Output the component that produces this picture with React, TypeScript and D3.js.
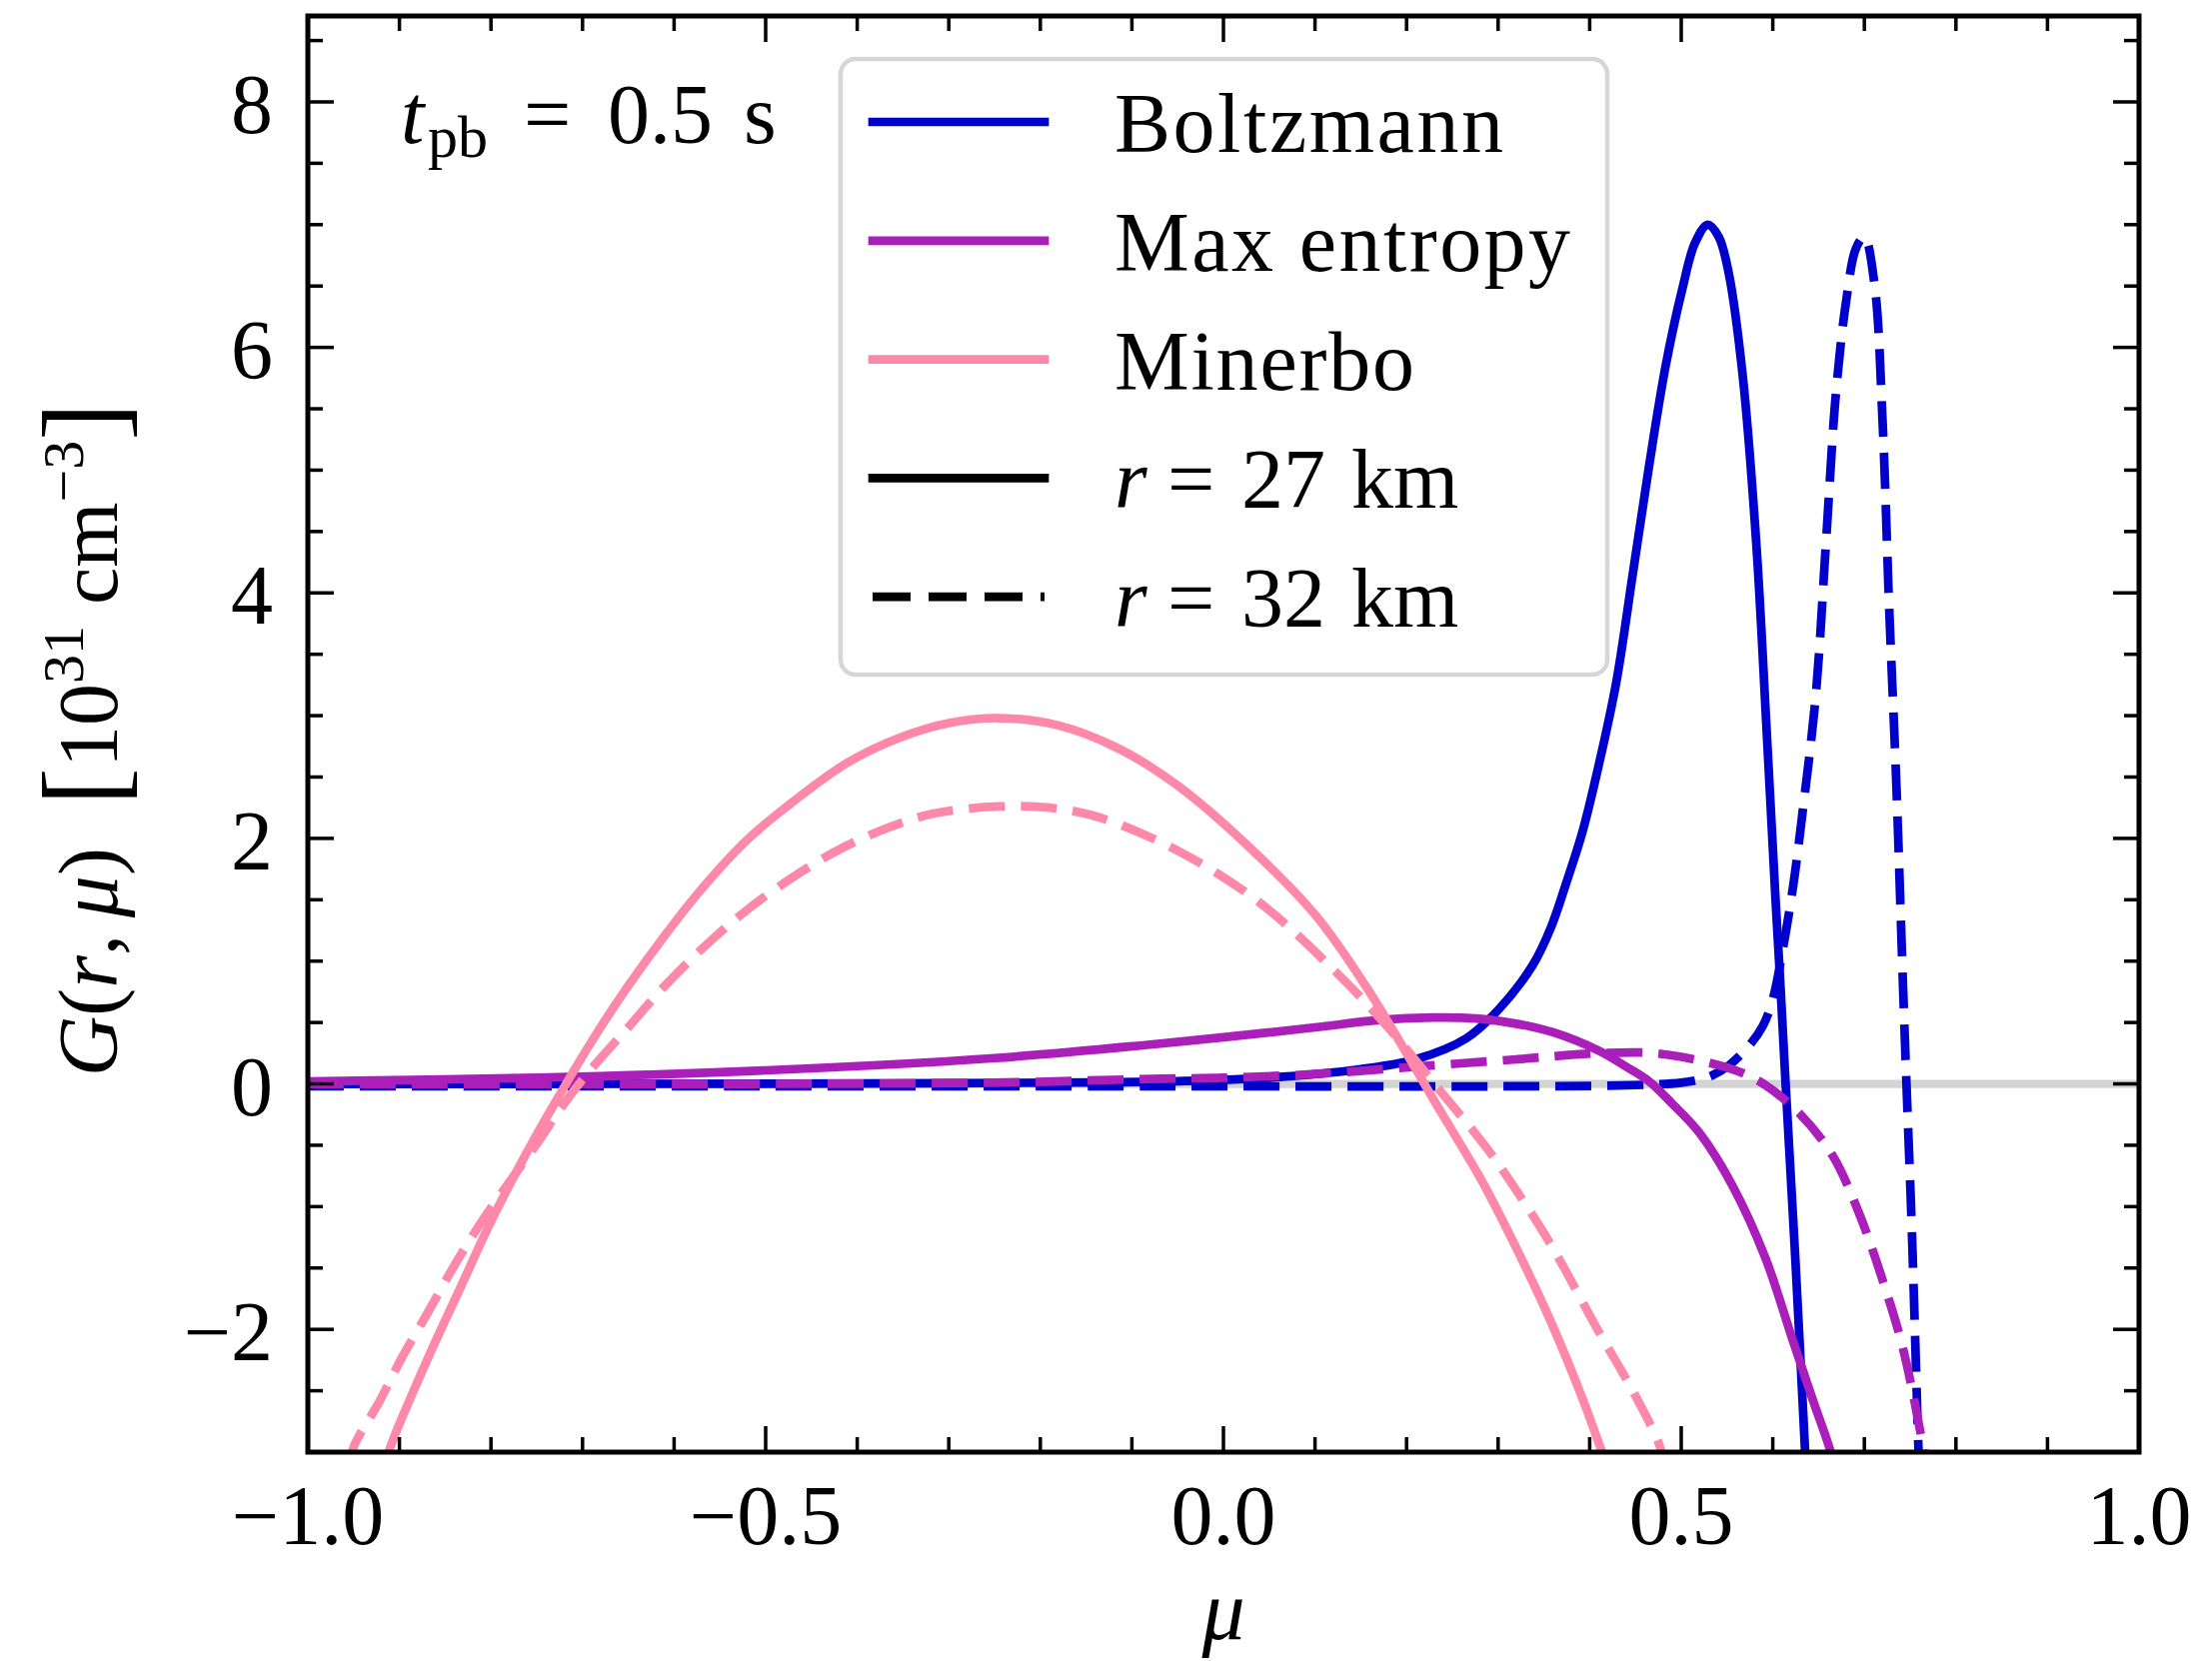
import React from 'react';
import * as d3 from 'd3';

// Canvas and plot frame
const W = 2213;
const H = 1662;
const PLOT = { left: 308, right: 2140, top: 16, bottom: 1453 };

// Axis ranges and ticks
const muDomain: [number, number] = [-1, 1];
const gDomain: [number, number] = [-3, 8.7];
const muMajorTicks = [-1, -0.5, 0, 0.5, 1];
const muTickLabels = ['\u22121.0', '\u22120.5', '0.0', '0.5', '1.0'];
const muMinorTicks = [-0.9, -0.8, -0.7, -0.6, -0.4, -0.3, -0.2, -0.1, 0.1, 0.2, 0.3, 0.4, 0.6, 0.7, 0.8, 0.9];
const gMajorTicks = [-2, 0, 2, 4, 6, 8];
const gTickLabels = ['\u22122', '0', '2', '4', '6', '8'];
const gMinorTicks = [-2.5, -1.5, -1, -0.5, 0.5, 1, 1.5, 2.5, 3, 3.5, 4.5, 5, 5.5, 6.5, 7, 7.5, 8.5];

// G(r, mu) in units of 1e31 cm^-3, sampled as [mu, G]
const boltzmannR27: [number, number][] = [
  [-1.0, 0.0], [-0.75, 0.0], [-0.5, 0.002], [-0.3, 0.005], [-0.15, 0.012], [-0.05, 0.022],
  [0.05, 0.05], [0.15, 0.12], [0.21, 0.2], [0.265, 0.37], [0.301, 0.61], [0.338, 0.97],
  [0.358, 1.28], [0.375, 1.65], [0.392, 2.05], [0.41, 2.6], [0.429, 3.27], [0.447, 4.15],
  [0.465, 5.04], [0.483, 5.85], [0.501, 6.47], [0.515, 6.85], [0.529, 7.0], [0.541, 6.9],
  [0.552, 6.6], [0.567, 5.78], [0.582, 4.4], [0.593, 2.92], [0.603, 1.5], [0.608, 0.85],
  [0.614, 0.0], [0.625, -1.48], [0.636, -3.1],
];

const boltzmannR32: [number, number][] = [
  [-1.0, -0.02], [-0.5, -0.02], [0.0, -0.02], [0.3, -0.02], [0.45, -0.01], [0.5, 0.01],
  [0.52, 0.035], [0.534, 0.07], [0.552, 0.15], [0.574, 0.31], [0.589, 0.47], [0.6, 0.69],
  [0.611, 1.1], [0.622, 1.6], [0.632, 2.18], [0.647, 3.17], [0.658, 4.4], [0.669, 5.63],
  [0.68, 6.37], [0.691, 6.81], [0.7, 6.9], [0.711, 6.52], [0.72, 5.38], [0.727, 3.9],
  [0.735, 2.43], [0.742, 0.85], [0.746, 0.0], [0.751, -1.0], [0.755, -1.95], [0.759, -2.95],
  [0.7605, -3.2],
];

const maxEntropyR27: [number, number][] = [
  [-1.0, 0.02], [-0.75, 0.05], [-0.5, 0.11], [-0.25, 0.21], [-0.08, 0.32], [0.0, 0.38],
  [0.1, 0.46], [0.17, 0.52], [0.23, 0.54], [0.28, 0.53], [0.32, 0.49], [0.36, 0.42],
  [0.41, 0.27], [0.44, 0.14], [0.465, 0.02], [0.49, -0.16], [0.52, -0.4], [0.556, -0.83],
  [0.592, -1.42], [0.621, -2.07], [0.643, -2.56], [0.662, -2.97], [0.666, -3.1],
];

const maxEntropyR32: [number, number][] = [
  [-1.0, 0.0], [-0.5, 0.0], [-0.25, 0.01], [-0.08, 0.04], [0.0, 0.05], [0.1, 0.08],
  [0.21, 0.14], [0.32, 0.2], [0.41, 0.25], [0.47, 0.25], [0.52, 0.19], [0.563, 0.1],
  [0.592, -0.01], [0.629, -0.24], [0.665, -0.58], [0.694, -1.05], [0.72, -1.6],
  [0.742, -2.15], [0.763, -2.91], [0.767, -3.1],
];

const minerboR27: [number, number][] = [
  [-0.916, -3.1], [-0.907, -2.9], [-0.868, -2.22], [-0.834, -1.67], [-0.8, -1.12],
  [-0.761, -0.56], [-0.722, -0.05], [-0.683, 0.43], [-0.649, 0.81], [-0.61, 1.21],
  [-0.572, 1.57], [-0.52, 1.99], [-0.463, 2.34], [-0.41, 2.62], [-0.354, 2.82],
  [-0.3, 2.94], [-0.246, 2.98], [-0.18, 2.92], [-0.114, 2.73], [-0.05, 2.43],
  [0.028, 1.93], [0.101, 1.37], [0.156, 0.79], [0.196, 0.3], [0.228, -0.11],
  [0.283, -0.8], [0.32, -1.34], [0.356, -1.91], [0.392, -2.56], [0.412, -2.97],
  [0.418, -3.1],
];

const minerboR32: [number, number][] = [
  [-0.955, -3.1], [-0.949, -2.94], [-0.922, -2.59], [-0.898, -2.24], [-0.868, -1.85],
  [-0.84, -1.48], [-0.81, -1.12], [-0.78, -0.8], [-0.751, -0.5], [-0.722, -0.18],
  [-0.693, 0.1], [-0.649, 0.47], [-0.61, 0.8], [-0.571, 1.09], [-0.53, 1.36],
  [-0.485, 1.61], [-0.427, 1.88], [-0.372, 2.07], [-0.318, 2.2], [-0.245, 2.26],
  [-0.19, 2.25], [-0.135, 2.17], [-0.045, 1.88], [0.039, 1.48], [0.123, 0.91],
  [0.181, 0.45], [0.236, -0.05], [0.28, -0.45], [0.301, -0.66], [0.356, -1.29],
  [0.41, -2.02], [0.447, -2.5], [0.476, -2.94], [0.481, -3.1],
];

// Closure names and colours
const closureNames = ['Boltzmann', 'Max entropy', 'Minerbo'];
const closureColors = ['#0000cc', '#aa1fb9', '#fd88aa'];
const radiusLabels = ['27', '32'];

const FONT = "'Liberation Serif', 'DejaVu Serif', serif";
const LW = 8.7;
const DASH = '36,16';

const curves = [
  { data: boltzmannR27, color: closureColors[0], dashed: false },
  { data: boltzmannR32, color: closureColors[0], dashed: true },
  { data: maxEntropyR27, color: closureColors[1], dashed: false },
  { data: maxEntropyR32, color: closureColors[1], dashed: true },
  { data: minerboR27, color: closureColors[2], dashed: false },
  { data: minerboR32, color: closureColors[2], dashed: true },
];

export default function App() {
  const x = d3.scaleLinear().domain(muDomain).range([PLOT.left, PLOT.right]);
  const y = d3.scaleLinear().domain(gDomain).range([PLOT.bottom, PLOT.top]);
  const line = d3
    .line<[number, number]>()
    .x((d) => x(d[0]))
    .y((d) => y(d[1]))
    .curve(d3.curveCatmullRom.alpha(0.5));

  const majorLen = 26;
  const minorLen = 15;
  const tickW = 3.5;

  // legend geometry
  const lgX = 841;
  const lgY = 59;
  const lgW = 767;
  const lgH = 616;
  const rowY0 = 122;
  const rowStep = 118.8;
  const lineX0 = 873;
  const lineX1 = 1045;
  const textX = 1115;
  const nameWidths = [389, 456, 300];

  return (
    <svg
      width={W}
      height={H}
      style={{ position: 'absolute', left: 0, top: 0, display: 'block', background: '#fff' }}
      fontFamily={FONT}
    >
      <rect x={0} y={0} width={W} height={H} fill="#fff" />
      <defs>
        <clipPath id="plot-area">
          <rect x={PLOT.left} y={PLOT.top} width={PLOT.right - PLOT.left} height={PLOT.bottom - PLOT.top} />
        </clipPath>
      </defs>

      <g clipPath="url(#plot-area)">
        <line x1={x(-1)} x2={x(1)} y1={y(0)} y2={y(0)} stroke="#d3d3d3" strokeWidth={8.3} />
        {curves.map((c, i) => (
          <path
            key={i}
            d={line(c.data) || ''}
            fill="none"
            stroke={c.color}
            strokeWidth={LW}
            strokeDasharray={c.dashed ? DASH : undefined}
            strokeLinejoin="round"
            strokeLinecap={c.dashed ? 'butt' : 'square'}
          />
        ))}
      </g>

      {/* ticks on all four sides, pointing inward */}
      <g stroke="#000" strokeWidth={tickW}>
        {muMajorTicks.map((t) => (
          <g key={'xm' + t}>
            <line x1={x(t)} x2={x(t)} y1={PLOT.bottom} y2={PLOT.bottom - majorLen} />
            <line x1={x(t)} x2={x(t)} y1={PLOT.top} y2={PLOT.top + majorLen} />
          </g>
        ))}
        {muMinorTicks.map((t) => (
          <g key={'xn' + t}>
            <line x1={x(t)} x2={x(t)} y1={PLOT.bottom} y2={PLOT.bottom - minorLen} />
            <line x1={x(t)} x2={x(t)} y1={PLOT.top} y2={PLOT.top + minorLen} />
          </g>
        ))}
        {gMajorTicks.map((t) => (
          <g key={'ym' + t}>
            <line x1={PLOT.left} x2={PLOT.left + majorLen} y1={y(t)} y2={y(t)} />
            <line x1={PLOT.right} x2={PLOT.right - majorLen} y1={y(t)} y2={y(t)} />
          </g>
        ))}
        {gMinorTicks.map((t) => (
          <g key={'yn' + t}>
            <line x1={PLOT.left} x2={PLOT.left + minorLen} y1={y(t)} y2={y(t)} />
            <line x1={PLOT.right} x2={PLOT.right - minorLen} y1={y(t)} y2={y(t)} />
          </g>
        ))}
      </g>

      <rect
        x={PLOT.left}
        y={PLOT.top}
        width={PLOT.right - PLOT.left}
        height={PLOT.bottom - PLOT.top}
        fill="none"
        stroke="#000"
        strokeWidth={5}
      />

      {/* tick labels */}
      <g fontSize={84} fill="#000">
        {muMajorTicks.map((t, i) => (
          <text key={'xl' + t} x={x(t)} y={PLOT.bottom + 92} textAnchor="middle">
            {muTickLabels[i]}
          </text>
        ))}
        {gMajorTicks.map((t, i) => (
          <text key={'yl' + t} x={PLOT.left - 35} y={y(t) + 31} textAnchor="end">
            {gTickLabels[i]}
          </text>
        ))}
      </g>

      {/* axis labels */}
      <text x={x(0)} y={1640} textAnchor="middle" fontSize={86} fontStyle="italic">
        μ
      </text>
      <text transform="translate(117, 740) rotate(-90)" textAnchor="middle" fontSize={84}>
        <tspan fontStyle="italic">G</tspan>
        <tspan>(</tspan>
        <tspan fontStyle="italic">r</tspan>
        <tspan>,{'\u2009'}</tspan>
        <tspan fontStyle="italic">μ</tspan>
        <tspan>)</tspan>
        <tspan>{'\u00a0\u00a0'}</tspan>
        <tspan fontSize={114} dy={5}>[</tspan>
        <tspan dy={-5}>10</tspan>
        <tspan fontSize={58} dy={-34}>31</tspan>
        <tspan dy={34}>{'\u00a0cm'}</tspan>
        <tspan fontSize={58} dy={-34}>{'\u22123'}</tspan>
        <tspan fontSize={114} dy={39}>]</tspan>
      </text>

      {/* time annotation */}
      <text y={143} fontSize={84}>
        <tspan x={401} fontStyle="italic">t</tspan>
        <tspan x={428} fontSize={60} dy={14}>pb</tspan>
        <tspan x={524} dy={-14}>=</tspan>
        <tspan x={608}>0.5</tspan>
        <tspan x={744}>s</tspan>
      </text>

      {/* legend */}
      <rect x={lgX} y={lgY} width={lgW} height={lgH} rx={15} ry={15} fill="#fff" stroke="#d6d6d6" strokeWidth={4.5} />
      {closureNames.map((name, i) => (
        <g key={name}>
          <line
            x1={lineX0}
            x2={lineX1}
            y1={rowY0 + i * rowStep}
            y2={rowY0 + i * rowStep}
            stroke={closureColors[i]}
            strokeWidth={LW}
            strokeLinecap="square"
          />
          <text
            x={textX}
            y={rowY0 + i * rowStep + 30}
            fontSize={84}
            textLength={nameWidths[i]}
            lengthAdjust="spacing"
          >
            {name}
          </text>
        </g>
      ))}
      {radiusLabels.map((r, j) => {
        const ry = rowY0 + (3 + j) * rowStep;
        return (
          <g key={r}>
            <line
              x1={lineX0}
              x2={lineX1}
              y1={ry}
              y2={ry}
              stroke="#000"
              strokeWidth={LW}
              strokeDasharray={j === 1 ? '38,18' : undefined}
              strokeLinecap={j === 1 ? 'butt' : 'square'}
            />
            <text y={ry + 30} fontSize={84}>
              <tspan x={textX} fontStyle="italic">r</tspan>
              <tspan x={1168}>=</tspan>
              <tspan x={1242}>{r}</tspan>
              <tspan x={1352}>km</tspan>
            </text>
          </g>
        );
      })}
    </svg>
  );
}
